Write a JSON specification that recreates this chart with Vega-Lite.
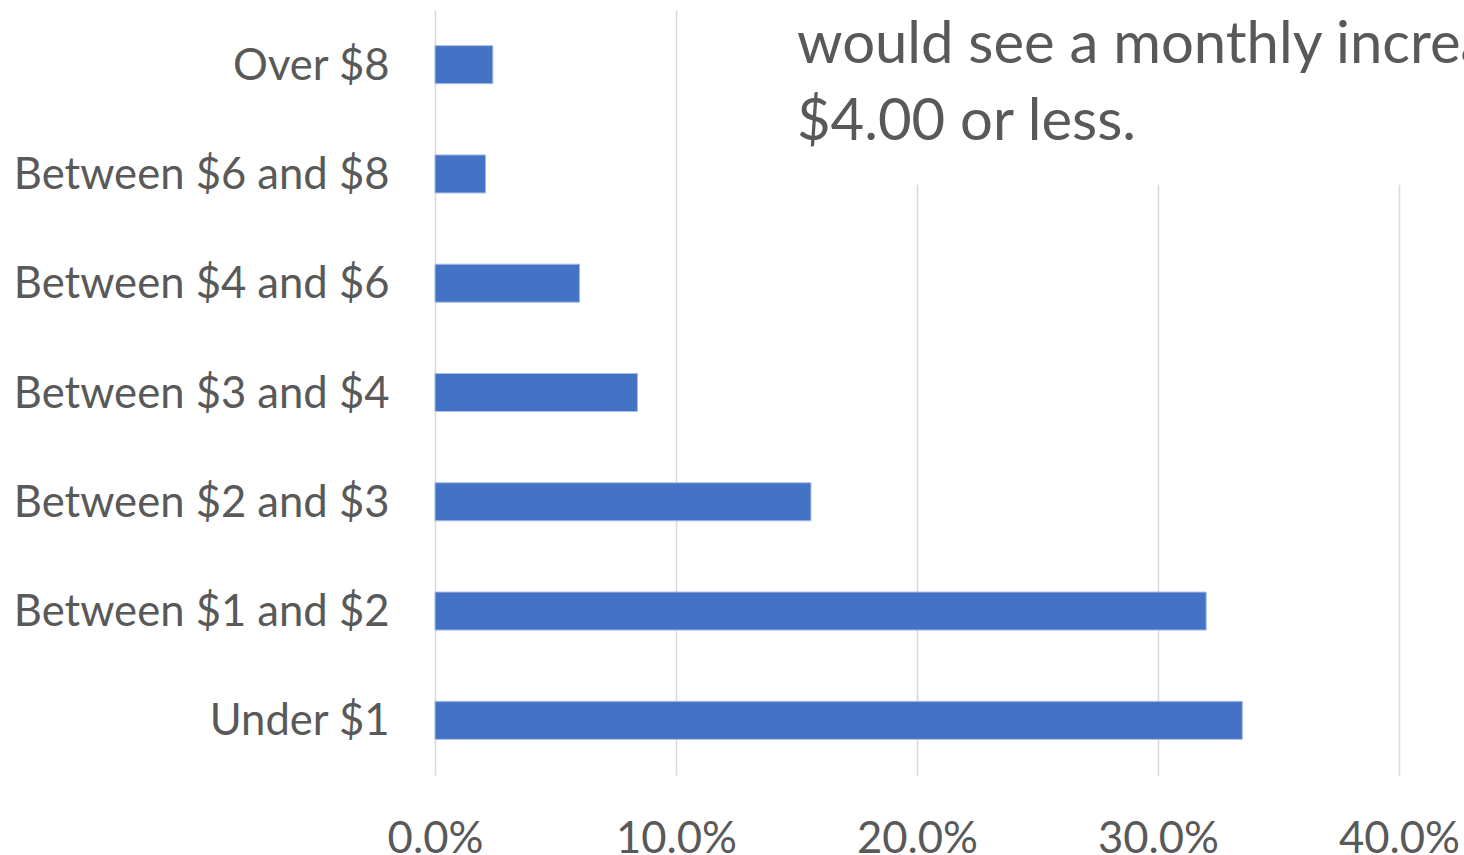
{
  "$schema": "https://vega.github.io/schema/vega-lite/v6.json",
  "width": 964,
  "height": 765,
  "autosize": {"type": "none"},
  "padding": {"left": 435, "top": 10, "right": 65, "bottom": 80},
  "background": "white",
  "config": {
    "view": {"stroke": null},
    "font": "Lato",
    "axis": {"labelFont": "Lato", "labelColor": "#595959"}
  },
  "layer": [
    {
      "data": {
        "values": [
          {"category": "Over $8", "pct": 0.024},
          {"category": "Between $6 and $8", "pct": 0.021},
          {"category": "Between $4 and $6", "pct": 0.060},
          {"category": "Between $3 and $4", "pct": 0.084},
          {"category": "Between $2 and $3", "pct": 0.156},
          {"category": "Between $1 and $2", "pct": 0.320},
          {"category": "Under $1", "pct": 0.335}
        ]
      },
      "mark": {"type": "bar", "color": "#4472c4", "stroke": "#a9bde6", "strokeWidth": 1},
      "encoding": {
        "y": {
          "field": "category",
          "type": "nominal",
          "sort": null,
          "scale": {"paddingInner": 0.652, "paddingOuter": 0.326},
          "axis": {
            "title": null,
            "domain": false,
            "ticks": false,
            "tickSize": 0,
            "grid": false,
            "labelFontSize": 43.6,
            "labelPadding": 46,
            "labelBaseline": "alphabetic",
            "labelOffset": 15,
            "labelLimit": 500
          }
        },
        "x": {
          "field": "pct",
          "type": "quantitative",
          "scale": {"domain": [0, 0.4], "nice": false},
          "axis": {
            "title": null,
            "format": ".1%",
            "values": [0, 0.1, 0.2, 0.3, 0.4],
            "domain": false,
            "ticks": false,
            "tickSize": 0,
            "grid": true,
            "gridColor": "#d9d9d9",
            "gridWidth": 1.5,
            "labelFontSize": 43.6,
            "labelBaseline": "alphabetic",
            "labelPadding": 77,
            "labelFlush": false
          }
        }
      }
    },
    {
      "data": {
        "values": [
          {"x0": 0.12, "x1": 0.5, "y0": -0.2, "y1": 1.6}
        ]
      },
      "mark": {"type": "rect", "color": "white", "clip": false},
      "encoding": {
        "x": {"field": "x0", "type": "quantitative"},
        "x2": {"field": "x1"},
        "y": {"field": "y0", "type": "quantitative", "scale": {"domain": [0, 7], "reverse": true, "nice": false}, "axis": null},
        "y2": {"field": "y1"}
      }
    },
    {
      "data": {
        "values": [
          {"line": "would see a monthly increase of", "xp": 0.1502, "yp": 0.485},
          {"line": "$4.00 or less.", "xp": 0.1502, "yp": 1.19}
        ]
      },
      "mark": {"type": "text", "align": "left", "baseline": "alphabetic", "fontSize": 58, "font": "Lato", "color": "#595959", "clip": false},
      "encoding": {
        "x": {"field": "xp", "type": "quantitative"},
        "y": {"field": "yp", "type": "quantitative", "scale": {"domain": [0, 7], "reverse": true, "nice": false}, "axis": null},
        "text": {"field": "line"}
      }
    }
  ],
  "resolve": {"scale": {"y": "independent"}, "axis": {"y": "independent"}}
}
